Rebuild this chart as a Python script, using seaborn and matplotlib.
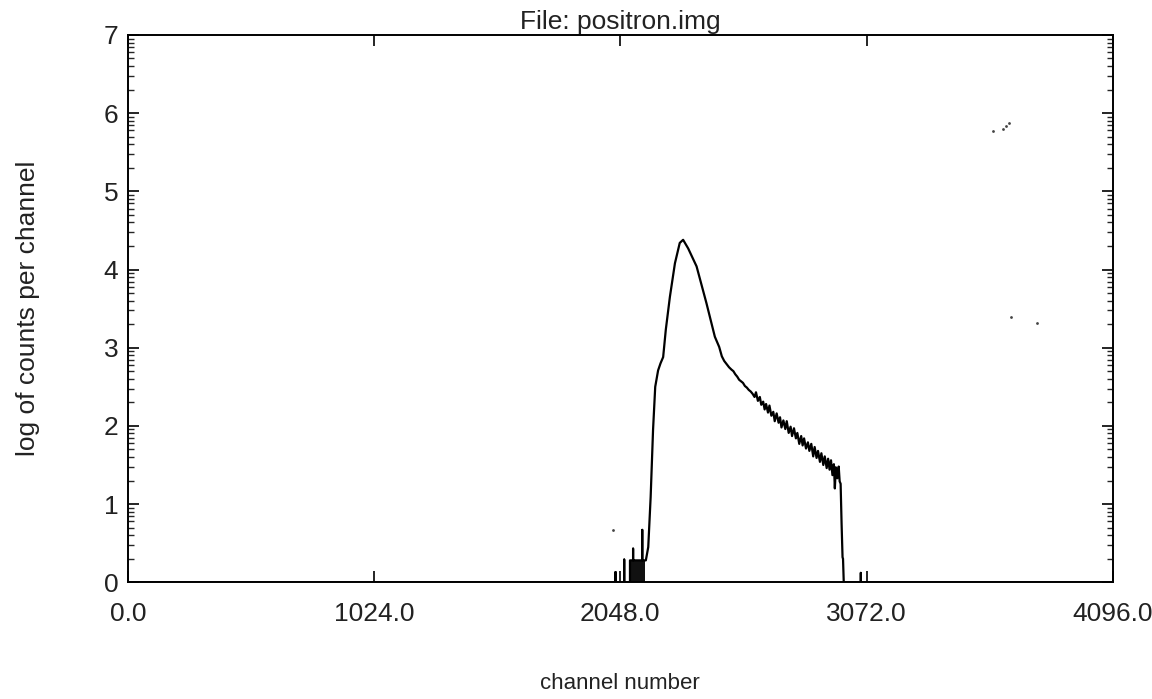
import numpy as np
import pandas as pd
import matplotlib
matplotlib.use("Agg")
import matplotlib.pyplot as plt
import seaborn as sns
from matplotlib.ticker import FixedLocator

# spectrum: channel number vs log10(counts)
channel = [
    0, 2020, 2028, 2028, 2028, 2064, 2064, 2064, 2088, 2088,
    2101, 2101, 2101, 2139, 2139, 2139, 2154,
    2164, 2174, 2184, 2193, 2205, 2215, 2226, 2237, 2254, 2275,
    2295, 2309, 2330, 2365, 2406, 2441, 2459, 2470,
    2480, 2490, 2500, 2510, 2518, 2526, 2534, 2542, 2550, 2558,
    2566, 2574, 2582, 2590, 2598, 2606, 2612, 2620, 2628, 2634,
    2642, 2648, 2654, 2662, 2668, 2676, 2684, 2690, 2698, 2706,
    2712, 2718, 2726, 2734, 2740, 2748, 2756, 2762, 2770, 2778,
    2784, 2792, 2800, 2806, 2812, 2820, 2828, 2834, 2842, 2850,
    2856, 2864, 2870, 2878, 2884, 2892, 2898, 2906, 2912, 2918,
    2924, 2930, 2936, 2940, 2944, 2950, 2956, 2960, 2964,
    2968, 2972, 2974, 2977,
    3048, 3048, 3048, 4096,
]
log_counts = [
    0, 0, 0, 0.13, 0, 0, 0.29, 0, 0, 0.28,
    0.28, 0.43, 0.28, 0.28, 0.67, 0.28, 0.28,
    0.45, 1.09, 1.95, 2.50, 2.71, 2.80, 2.88, 3.23, 3.65, 4.08,
    4.34, 4.38, 4.27, 4.04, 3.57, 3.14, 3.01, 2.89,
    2.83, 2.79, 2.75, 2.72, 2.70, 2.66, 2.63, 2.59, 2.57, 2.55,
    2.51, 2.49, 2.46, 2.44, 2.41, 2.37, 2.43, 2.32, 2.37, 2.27,
    2.31, 2.21, 2.28, 2.17, 2.26, 2.13, 2.18, 2.06, 2.16, 2.04,
    2.11, 1.98, 2.07, 1.96, 2.06, 1.91, 1.99, 1.87, 1.97, 1.84,
    1.91, 1.77, 1.87, 1.75, 1.84, 1.71, 1.79, 1.68, 1.77, 1.61,
    1.73, 1.59, 1.68, 1.54, 1.65, 1.50, 1.61, 1.46, 1.58, 1.44,
    1.56, 1.37, 1.51, 1.20, 1.47, 1.33, 1.48, 1.29, 1.26,
    0.75, 0.32, 0.30, 0,
    0, 0.12, 0, 0,
]

# filled block of dense low-count channels just above 2048
block_channel = [2088, 2150]
block_value = [0.28, 0.28]

# stray specks on the scanned page
speck_channel = [2016, 3596, 3640, 3652, 3665, 3672, 3781]
speck_value = [0.67, 5.77, 5.80, 5.84, 5.88, 3.39, 3.32]

x_ticks = [0, 1024, 2048, 3072, 4096]
x_ticklabels = ["0.0", "1024.0", "2048.0", "3072.0", "4096.0"]
y_ticks = [0, 1, 2, 3, 4, 5, 6, 7]

sns.set_theme(style="ticks")
plt.rcParams["font.family"] = ["Liberation Sans", "DejaVu Sans"]

df = pd.DataFrame({"channel": channel, "log_counts": log_counts})

fig = plt.figure(figsize=(11.52, 6.99), dpi=100)
ax = fig.add_axes([0.111, 0.167, 0.855, 0.783])

sns.lineplot(data=df, x="channel", y="log_counts", ax=ax, color="black",
             linewidth=1.6, estimator=None, sort=False)
ax.fill_between(block_channel, block_value, color="#111111", linewidth=0)
sns.scatterplot(x=speck_channel, y=speck_value, ax=ax, color="#444444",
                s=4, linewidth=0)

ax.set_xlim(0, 4096)
ax.set_ylim(0, 7)
ax.set_xticks(x_ticks)
ax.set_xticklabels(x_ticklabels)
ax.set_yticks(y_ticks)
minor = [k + np.log10(m) for k in range(7) for m in range(2, 10)]
ax.yaxis.set_minor_locator(FixedLocator(minor))

ax.tick_params(axis="both", which="major", direction="in", length=8,
               width=1.2, labelsize=19, color="black", labelcolor="#222222")
ax.tick_params(axis="x", which="major", top=True, pad=14)
ax.tick_params(axis="y", which="both", right=True, pad=7)
ax.tick_params(axis="y", which="minor", direction="in", length=4, width=1.0)

for s in ax.spines.values():
    s.set_visible(True)
    s.set_linewidth(1.4)
    s.set_color("black")

ax.set_title("File: positron.img", fontsize=19, color="#222222", pad=4)
ax.set_xlabel("channel number", fontsize=16, color="#222222", labelpad=34)
ax.set_ylabel("log of counts per channel", fontsize=19, color="#222222",
              labelpad=46)

fig.savefig("out.png", dpi=100, facecolor="white")
